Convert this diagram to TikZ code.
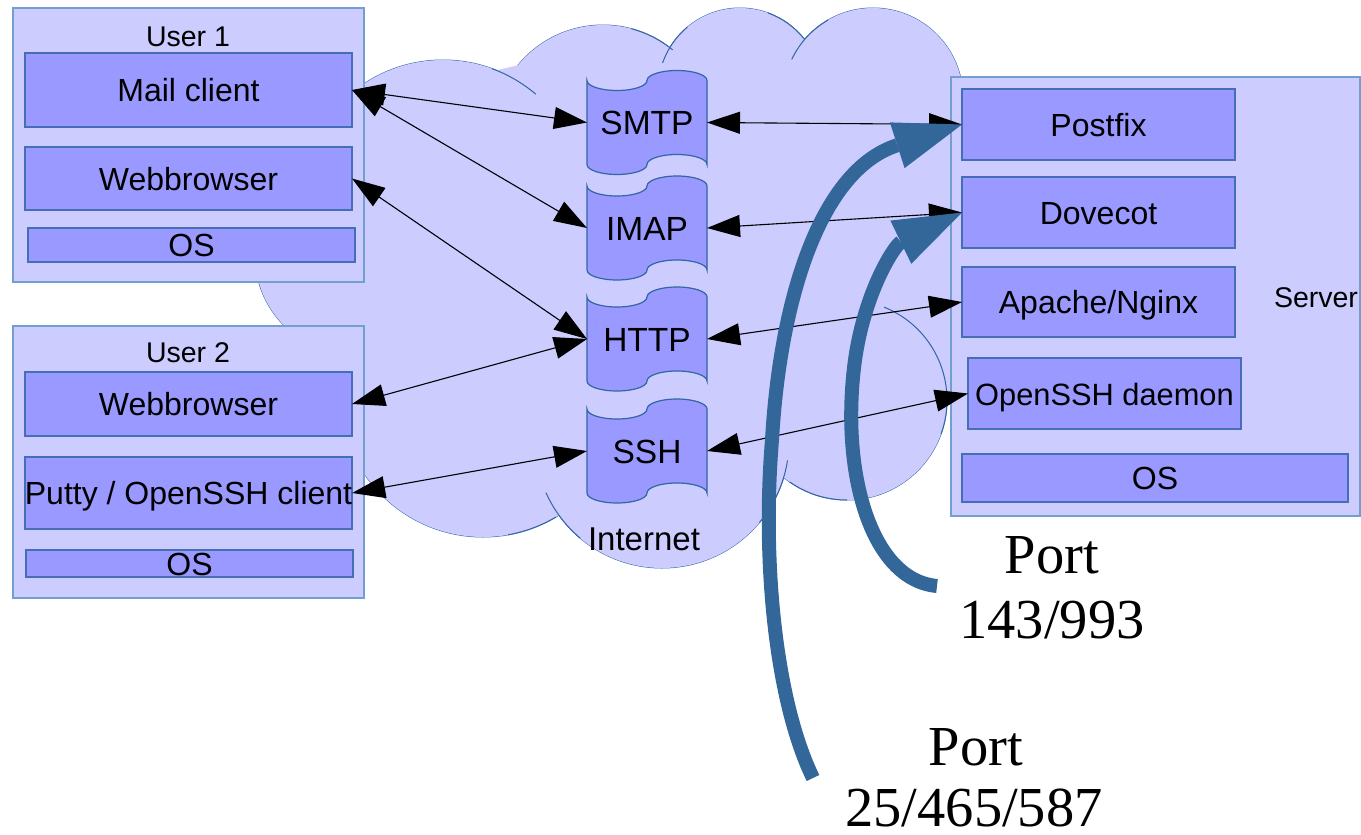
\documentclass[tikz,border=0pt]{standalone}
\usepackage{fontspec}
\setmainfont{Liberation Sans}
\newfontfamily\portserif{Liberation Serif}
\usetikzlibrary{arrows.meta}
\definecolor{cfill}{RGB}{204,204,255}
\definecolor{cline}{RGB}{52,101,164}
\definecolor{ifill}{RGB}{153,153,255}
\definecolor{iline}{RGB}{70,110,180}
\definecolor{oline}{RGB}{114,159,207}
\definecolor{pblue}{RGB}{51,102,153}
\tikzset{
  cloudedge/.style={draw=cline, line width=1pt},
  outerbox/.style={draw=oline, fill=cfill, line width=1.5pt, inner sep=0pt, outer sep=0pt},
  innerbox/.style={draw=iline, fill=ifill, line width=1.5pt, inner sep=0pt, outer sep=0pt,
    font=\fontsize{32}{36}\selectfont, text height=23pt, text depth=0pt},
  lbl/.style={inner sep=0pt, font=\fontsize{28.5}{32}\selectfont, text height=20.5pt, text depth=0pt},
  biglbl/.style={inner sep=0pt, font=\fontsize{33}{36}\selectfont, text height=23.5pt, text depth=0pt},
  tapenode/.style={minimum width=120pt, minimum height=84pt, inner sep=0pt, outer sep=0pt,
    font=\fontsize{33.5}{36}\selectfont, text height=24pt, text depth=0pt},
  tapeshape/.style={draw=cline, fill=ifill, line width=1.2pt},
  link/.style={{Triangle[length=33pt,width=22pt]}-{Triangle[length=33pt,width=22pt]}, line width=1.1pt, black},
  port/.style={draw=pblue, line width=14pt, -{Triangle[length=68pt,width=48pt,line width=0pt]}},
  portlbl/.style={inner sep=0pt, anchor=base, text depth=0pt, font=\portserif\fontsize{56.5}{60}\selectfont},
}
\newcommand\tapeat[1]{\path[tapeshape] (#1) ++(-60,-42)
  arc[start angle=180,end angle=0,x radius=30,y radius=10]
  arc[start angle=180,end angle=360,x radius=30,y radius=10]
  -- ++(0,84)
  arc[start angle=0,end angle=-180,x radius=30,y radius=10]
  arc[start angle=0,end angle=180,x radius=30,y radius=10] -- cycle;}
\begin{document}
\begin{tikzpicture}[x=1pt,y=-1pt]
\useasboundingbox (0,0) rectangle (1361,835);
% ---------- cloud ----------
\foreach \cx/\cy/\r in {443/203/143, 603/135/110, 740/90/82, 873/98/90, 847/400/100, 662/441/127, 483/394/143, 355/255/100}
  {\draw[cloudedge] (\cx,\cy) circle[radius=\r];}
\foreach \cx/\cy/\r in {443/203/143, 603/135/110, 740/90/82, 873/98/90, 847/400/100, 662/441/127, 483/394/143, 355/255/100}
  {\fill[cfill] (\cx,\cy) circle[radius=\r];}
\fill[cfill] (370,100) -- (540,60) -- (700,60) -- (960,85) -- (960,395) -- (800,470) -- (560,480) -- (380,450) -- (300,300) -- cycle;
\draw[cloudedge] (443,203) ++(-70:143) arc[start angle=-70,end angle=-49.5,radius=143];
\draw[cloudedge] (603,135) ++(-75:110) arc[start angle=-75,end angle=-50.7,radius=110];
\draw[cloudedge] (740,90) ++(-160.7:82) arc[start angle=-160.7,end angle=-130,radius=82];
\draw[cloudedge] (740,90) ++(-70:82) arc[start angle=-70,end angle=-38.3,radius=82];
\draw[cloudedge] (873,98) ++(-154.6:90) arc[start angle=-154.6,end angle=-120,radius=90];
\draw[cloudedge] (847,400) ++(-68.3:100) arc[start angle=-68.3,end angle=20,radius=100];
\draw[cloudedge] (847,400) ++(90:100) arc[start angle=90,end angle=125,radius=100];
\draw[cloudedge] (662,441) ++(8.8:127) arc[start angle=8.8,end angle=40,radius=127];
\draw[cloudedge] (662,441) ++(156:127) arc[start angle=156,end angle=130,radius=127];
\draw[cloudedge] (483,394) ++(59.3:143) arc[start angle=59.3,end angle=80,radius=143];
\node[biglbl] (internet) at (644,539) {Internet};
% ---------- user 1 ----------
\node[outerbox, minimum width=351pt, minimum height=274pt] (user1) at (188.5,145) {};
\node[lbl] (u1lbl) at (188,36) {User 1};
\node[innerbox, minimum width=327pt, minimum height=74pt] (mail) at (188.5,90) {Mail client};
\node[innerbox, minimum width=327pt, minimum height=63pt] (web1) at (188.5,178.5) {Webbrowser};
\node[innerbox, minimum width=327pt, minimum height=34pt] (os1) at (191.5,245) {OS};
% ---------- user 2 ----------
\node[outerbox, minimum width=351pt, minimum height=272pt] (user2) at (188.5,462) {};
\node[lbl] (u2lbl) at (188,352) {User 2};
\node[innerbox, minimum width=327pt, minimum height=64pt] (web2) at (188.5,404) {Webbrowser};
\node[innerbox, minimum width=327pt, minimum height=72pt] (putty) at (188.5,493) {Putty / OpenSSH client};
\node[innerbox, minimum width=327pt, minimum height=27pt] (os2) at (189.5,563.5) {OS};
% ---------- server ----------
\node[outerbox, minimum width=409pt, minimum height=439pt] (server) at (1155.5,296.5) {};
\node[lbl] (srvlbl) at (1316,297) {Server};
\node[innerbox, minimum width=273pt, minimum height=71pt] (postfix) at (1098.5,124.5) {Postfix};
\node[innerbox, minimum width=273pt, minimum height=71pt] (dovecot) at (1098.5,212.5) {Dovecot};
\node[innerbox, minimum width=273pt, minimum height=70pt] (apache) at (1098.5,302) {Apache/Nginx};
\node[innerbox, minimum width=273pt, minimum height=71pt, font=\fontsize{30.8}{34}\selectfont] (openssh) at (1104.5,393.5) {OpenSSH daemon};
\node[innerbox, minimum width=386pt, minimum height=48pt] (os3) at (1155,478) {OS};
% ---------- protocols ----------
\coordinate (smtpc) at (647,122.5);
\coordinate (imapc) at (647,228);
\coordinate (httpc) at (647,339);
\coordinate (sshc) at (647,451);
\tapeat{smtpc}\tapeat{imapc}\tapeat{httpc}\tapeat{sshc}
\node[tapenode] (smtp) at (smtpc) {SMTP};
\node[tapenode] (imap) at (imapc) {IMAP};
\node[tapenode] (http) at (httpc) {HTTP};
\node[tapenode] (ssh) at (sshc) {SSH};
% ---------- connections ----------
\draw[link] (mail.east) -- (smtp.west);
\draw[link] (mail.east) -- (imap.west);
\draw[link] (web1.east) -- (http.west);
\draw[link] (web2.east) -- (http.west);
\draw[link] (putty.east) -- (ssh.west);
\draw[link] (smtp.east) -- (postfix.west);
\draw[link] (imap.east) -- (dovecot.west);
\draw[link] (http.east) -- (apache.west);
\draw[link] (ssh.east) -- (openssh.west);
% ---------- ports ----------
\coordinate (p25) at (813,778);
\coordinate (p143) at (937,586);
\draw[port] (p25) .. controls (775,700) and (762,560) .. (772,440)
  .. controls (780,300) and (820,170) .. (postfix.west);
\draw[port] (p143) .. controls (870,580) and (840,470) .. (855,360)
  .. controls (865,290) and (895,245) .. (dovecot.west);
\node[portlbl] (port1a) at (1052,573) {Port};
\node[portlbl] (port1b) at (1052,638) {143/993};
\node[portlbl] (port2a) at (976,765) {Port};
\node[portlbl] (port2b) at (974,826) {25/465/587};
\end{tikzpicture}
\end{document}
